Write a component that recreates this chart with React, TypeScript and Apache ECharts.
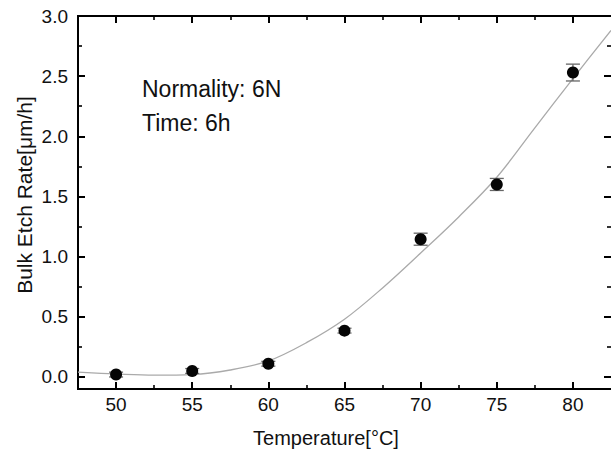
import React, { useEffect, useRef } from "react";
import * as echarts from "echarts";

const temperatures = [50, 55, 60, 65, 70, 75, 80];
const etchRates = [0.02, 0.05, 0.11, 0.385, 1.145, 1.6, 2.53];
const etchErrors = [0.02, 0.02, 0.02, 0.02, 0.05, 0.05, 0.07];

const fitX = [47.5, 50, 52.5, 55, 57.5, 60, 62.5, 65, 67.5, 70, 72.5, 75, 77.5, 80, 82.5];
const fitY = [0.04, 0.025, 0.015, 0.02, 0.058, 0.133, 0.285, 0.48, 0.74, 1.03, 1.33, 1.66, 2.07, 2.48, 2.88];

const xMajor = [50, 55, 60, 65, 70, 75, 80];
const xMinor = [52.5, 57.5, 62.5, 67.5, 72.5, 77.5];
const yMajor = [0, 0.5, 1, 1.5, 2, 2.5, 3];
const yMinor = [0.25, 0.75, 1.25, 1.75, 2.25, 2.75];

const FONT = "'Liberation Sans', Arial, sans-serif";

export default function App() {
  const ref = useRef<HTMLDivElement>(null);
  useEffect(() => {
    if (!ref.current) return;
    const chart = echarts.init(ref.current, undefined, { renderer: "svg" });
    const axisLine = { show: true, onZero: false, lineStyle: { color: "#000", width: 2 } };
    const hiddenLine = { show: false, onZero: false };
    const mkX = (position: string, major: boolean, label: boolean) => ({
      type: "value",
      min: 47.5,
      max: 82.5,
      position,
      axisLine,
      axisTick: {
        show: true,
        inside: true,
        length: major ? 7 : 4,
        customValues: major ? xMajor : xMinor,
        lineStyle: { color: "#000", width: major ? 2 : 1.6 },
      },
      axisLabel: label
        ? {
            show: true,
            customValues: xMajor,
            fontSize: 19,
            color: "#111",
            margin: 6,
            fontFamily: FONT,
            formatter: (v: number) => String(v),
          }
        : { show: false },
      splitLine: { show: false },
    });
    const mkY = (position: string, major: boolean, label: boolean) => ({
      type: "value",
      min: -0.1,
      max: 3.0,
      position,
      axisLine: position === "right" ? hiddenLine : axisLine,
      axisTick: {
        show: true,
        inside: true,
        length: major ? 7 : 4,
        customValues: major ? yMajor : yMinor,
        lineStyle: { color: "#000", width: major ? 2 : 1.6 },
      },
      axisLabel: label
        ? {
            show: true,
            customValues: yMajor,
            fontSize: 19,
            color: "#111",
            margin: 10,
            fontFamily: FONT,
            formatter: (v: number) => v.toFixed(1),
          }
        : { show: false },
      splitLine: { show: false },
    });

    const option = {
      animation: false,
      backgroundColor: "#fff",
      grid: { left: 78, top: 16, right: -1, bottom: 64, containLabel: false },
      xAxis: [
        mkX("bottom", true, true),
        mkX("bottom", false, false),
        mkX("top", true, false),
        mkX("top", false, false),
      ],
      yAxis: [
        mkY("left", true, true),
        mkY("left", false, false),
        mkY("right", true, false),
        mkY("right", false, false),
      ],
      graphic: [
        {
          type: "text",
          left: 142,
          top: 89 - 12,
          style: { text: "Normality: 6N", fontSize: 23, fill: "#111", fontFamily: FONT },
        },
        {
          type: "text",
          left: 142,
          top: 123 - 12,
          style: { text: "Time: 6h", fontSize: 23, fill: "#111", fontFamily: FONT },
        },
        {
          type: "text",
          x: 326,
          y: 438,
          style: {
            text: "Temperature[°C]",
            fontSize: 20,
            fill: "#111",
            fontFamily: FONT,
            align: "center",
            verticalAlign: "middle",
          },
        },
        {
          type: "text",
          x: 24,
          y: 195,
          rotation: Math.PI / 2,
          style: {
            text: "Bulk Etch Rate[μm/h]",
            fontSize: 21,
            fill: "#111",
            fontFamily: FONT,
            align: "center",
            verticalAlign: "middle",
          },
        },
      ],
      series: [
        {
          type: "line",
          name: "fit",
          data: fitX.map((x, i) => [x, fitY[i]]),
          smooth: 0.35,
          showSymbol: false,
          symbol: "none",
          lineStyle: { color: "#aaa", width: 1.3 },
          z: 1,
        },
        {
          type: "custom",
          name: "error",
          data: temperatures.map((t, i) => [t, etchRates[i], etchErrors[i]]),
          renderItem: (params: any, api: any) => {
            const x = api.value(0);
            const y = api.value(1);
            const e = api.value(2);
            const top = api.coord([x, y + e]);
            const bot = api.coord([x, y - e]);
            const hw = 7;
            const style = { stroke: "#666", lineWidth: 1.3 };
            return {
              type: "group",
              children: [
                { type: "line", shape: { x1: top[0], y1: top[1], x2: bot[0], y2: bot[1] }, style },
                { type: "line", shape: { x1: top[0] - hw, y1: top[1], x2: top[0] + hw, y2: top[1] }, style },
                { type: "line", shape: { x1: bot[0] - hw, y1: bot[1], x2: bot[0] + hw, y2: bot[1] }, style },
              ],
            };
          },
          z: 2,
        },
        {
          type: "scatter",
          name: "data",
          data: temperatures.map((t, i) => [t, etchRates[i]]),
          symbol: "circle",
          symbolSize: 12,
          itemStyle: { color: "#050505", opacity: 1 },
          z: 3,
        },
      ],
    };
    chart.setOption(option as any);
    return () => chart.dispose();
  }, []);
  return (
    <div
      ref={ref}
      style={{ position: "fixed", left: 0, top: 0, width: 611, height: 453, background: "#fff" }}
    />
  );
}
